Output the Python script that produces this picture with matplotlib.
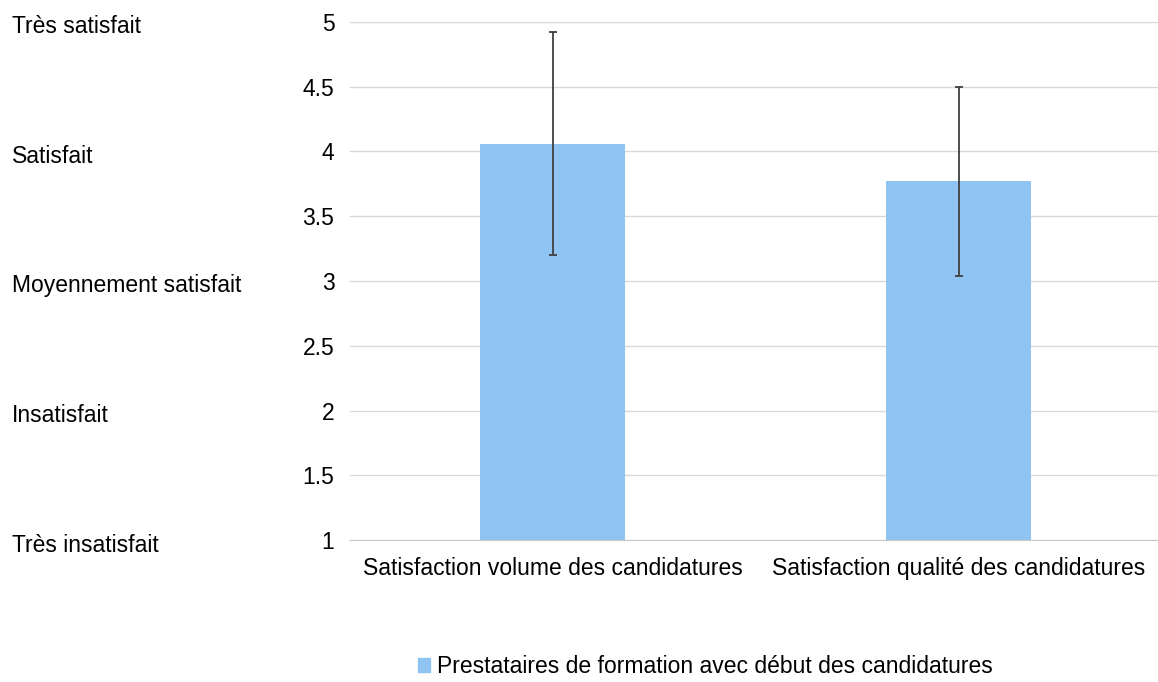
import numpy as np
import matplotlib.pyplot as plt
import matplotlib.transforms as mtransforms
from matplotlib.patches import Patch

plt.rcParams['font.family'] = ['Liberation Sans', 'DejaVu Sans']

# Data
categories = ["Satisfaction volume des candidatures", "Satisfaction qualité des candidatures"]
means = [4.06, 3.77]
errors = [0.86, 0.73]
series_name = "Prestataires de formation avec début des candidatures"
level_values = [5, 4, 3, 2, 1]
level_labels = ["Très satisfait", "Satisfait", "Moyennement satisfait", "Insatisfait", "Très insatisfait"]
yticks = [1, 1.5, 2, 2.5, 3, 3.5, 4, 4.5, 5]

bar_color = '#8fc3f1'
fs = 16.5

fig = plt.figure(figsize=(11.58, 6.82), dpi=100)
ax = fig.add_axes([0.302, 0.208, 0.701, 0.760])

x = np.arange(len(categories))
ax.bar(x, [m - 1 for m in means], bottom=1, width=0.357, color=bar_color, zorder=2)
ax.errorbar(x, means, yerr=errors, fmt='none', ecolor='#404040', elinewidth=1.3,
            capsize=3, capthick=1.3, zorder=3)

ax.set_xlim(-0.5, len(categories) - 0.5)
ax.set_ylim(1, 5)
ax.set_yticks(yticks)
ax.set_yticklabels([f"{v:g}" for v in yticks], fontsize=fs)
ax.set_xticks(x)
ax.set_xticklabels(categories, fontsize=fs)
ax.tick_params(axis='both', length=0, colors='black')
ax.tick_params(axis='y', pad=11)
ax.tick_params(axis='x', pad=12)
ax.yaxis.grid(True, color='#d9d9d9', linewidth=1, zorder=0)
ax.set_axisbelow(True)
for s in ['top', 'right', 'left']:
    ax.spines[s].set_visible(False)
ax.spines['bottom'].set_color('#c8c8c8')

# Verbal scale labels on the far left
trans = mtransforms.blended_transform_factory(fig.transFigure, ax.transData)
offset = mtransforms.ScaledTranslation(0, -5 / 100, fig.dpi_scale_trans)
for v, lab in zip(level_values, level_labels):
    ax.text(0.010, v, lab, transform=trans + offset, ha='left', va='center',
            fontsize=fs, clip_on=False)

fig.legend(handles=[Patch(color=bar_color, label=series_name)], loc='center',
           bbox_to_anchor=(0.609, 0.023), frameon=False, fontsize=fs,
           handlelength=0.55, handleheight=0.55, handletextpad=0.3)

fig.savefig('out.png', dpi=100)
